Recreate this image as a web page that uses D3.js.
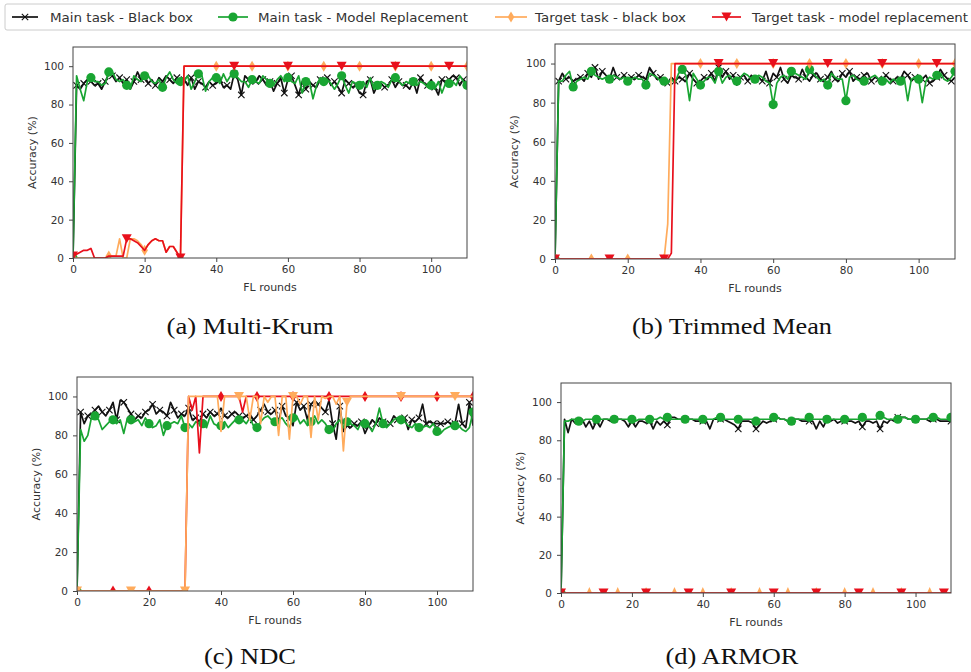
<!DOCTYPE html>
<html>
<head>
<meta charset="utf-8">
<title>fl-accuracy</title>
<style>
  body { margin: 0; background: #fff; }
  svg { display: block; }
  .tick text { font-family: "DejaVu Sans", sans-serif; font-size: 10.5px; fill: #333; }
  .axislabel { font-family: "DejaVu Sans", sans-serif; font-size: 11px; fill: #333; }
  .caption { font-family: "Liberation Serif", serif; font-size: 24px; fill: #111; }
  .legend text { font-family: "DejaVu Sans", sans-serif; font-size: 13px; fill: #333; }
</style>
</head>
<body>
<svg id="chart" width="971" height="672"></svg>

<script src="https://cdn.jsdelivr.net/npm/d3@7"></script>
<script>

// rounds 0..110, values (accuracy %)
var roundTicks = [0, 20, 40, 60, 80, 100]
var accTicks = [0, 20, 40, 60, 80, 100]

// (a) Multi-Krum
var krumMainBB = [
  0, 90, 88, 91, 93, 92, 90, 91, 88, 92,
  96, 95, 92, 94, 91, 93, 88, 92, 97, 93,
  95, 91, 93, 90, 94, 92, 95, 93, 91, 94,
  92, 93, 90, 94, 88, 92, 91, 89, 92, 90,
  91, 93, 89, 90, 88, 96, 93, 85, 95, 93,
  94, 92, 95, 93, 90, 92, 87, 91, 94, 86,
  93, 95, 90, 85, 92, 88, 92, 90, 89, 93,
  91, 94, 90, 92, 89, 86, 93, 91, 89, 90,
  86, 85, 92, 93, 86, 90, 91, 89, 90, 93,
  89, 92, 90, 90, 88, 92, 86, 94, 91, 90,
  93, 89, 85, 93, 92, 93, 95, 94, 90, 93,
  91]
var krumMainMR = [
  0, 95, 88, 82, 92, 94, 92, 92, 90, 91,
  97, 97, 93, 92, 93, 90, 88, 95, 93, 92,
  95, 95, 92, 91, 93, 89, 94, 97, 93, 91,
  92, 92, 95, 88, 92, 96, 95, 87, 92, 94,
  94, 91, 96, 92, 95, 96, 94, 92, 92, 89,
  93, 92, 91, 95, 93, 91, 90, 93, 95, 92,
  94, 92, 91, 95, 86, 92, 92, 83, 90, 94,
  92, 93, 91, 88, 91, 95, 90, 86, 92, 91,
  90, 92, 89, 94, 88, 90, 92, 91, 89, 93,
  94, 92, 90, 92, 91, 92, 90, 92, 91, 89,
  90, 88, 92, 86, 91, 91, 92, 90, 95, 92,
  90]
var krumTargetBB = [
  0, 0, 0, 0, 0, 0, 0, 0, 0, 0,
  1, 1, 1, 10, 0, 0, 10, 10, 9, 7,
  4, 7, 9, 10, 9, 9, 3, 6, 6, 3,
  0, 100, 100, 100, 100, 100, 100, 100, 100, 100,
  100, 100, 100, 100, 100, 100, 100, 100, 100, 100,
  100, 100, 100, 100, 100, 100, 100, 100, 100, 100,
  100, 100, 100, 100, 100, 100, 100, 100, 100, 100,
  100, 100, 100, 100, 100, 100, 100, 100, 100, 100,
  100, 100, 100, 100, 100, 100, 100, 100, 100, 100,
  100, 100, 100, 100, 100, 100, 100, 100, 100, 100,
  100, 100, 100, 100, 100, 100, 100, 100, 100, 100,
  100]
var krumTargetMR = [
  1, 2, 3, 4, 4, 5, 0, 0, 0, 0,
  1, 1, 1, 1, 1, 10, 10, 9, 8, 6,
  4, 7, 9, 10, 9, 9, 3, 6, 6, 3,
  0, 100, 100, 100, 100, 100, 100, 100, 100, 100,
  100, 100, 100, 100, 100, 100, 100, 100, 100, 100,
  100, 100, 100, 100, 100, 100, 100, 100, 100, 100,
  100, 100, 100, 100, 100, 100, 100, 100, 100, 100,
  100, 100, 100, 100, 100, 100, 100, 100, 100, 100,
  100, 100, 100, 100, 100, 100, 100, 100, 100, 100,
  100, 100, 100, 100, 100, 100, 100, 100, 100, 100,
  100, 100, 100, 100, 100, 100, 100, 100, 100, 100,
  100]

// (b) Trimmed Mean
var trimMainBB = [
  0, 91, 95, 92, 93, 91, 92, 93, 91, 95,
  93, 98, 92, 96, 94, 92, 98, 93, 92, 94,
  91, 93, 92, 94, 93, 92, 98, 95, 92, 93,
  91, 90, 93, 91, 93, 92, 91, 95, 92, 90,
  91, 93, 92, 95, 91, 98, 93, 96, 92, 94,
  89, 93, 94, 91, 94, 92, 93, 91, 96, 90,
  95, 93, 98, 92, 90, 94, 93, 92, 97, 93,
  91, 94, 95, 92, 91, 93, 96, 92, 91, 95,
  93, 96, 91, 93, 92, 94, 95, 91, 93, 92,
  91, 94, 92, 91, 93, 92, 96, 94, 91, 93,
  91, 92, 94, 90, 91, 93, 97, 94, 92, 91,
  93]
var trimMainMR = [
  0, 91, 91, 94, 96, 88, 91, 92, 93, 92,
  96, 94, 93, 92, 93, 92, 94, 93, 92, 93,
  91, 92, 93, 92, 92, 89, 95, 94, 93, 91,
  91, 90, 92, 90, 95, 97, 94, 81, 95, 92,
  89, 91, 93, 93, 90, 96, 90, 93, 94, 91,
  91, 93, 95, 94, 92, 92, 94, 93, 91, 90,
  79, 90, 93, 94, 92, 96, 95, 94, 93, 92,
  97, 95, 93, 91, 92, 89, 95, 93, 92, 92,
  81, 93, 94, 92, 91, 91, 92, 93, 94, 92,
  91, 92, 90, 92, 91, 91, 93, 81, 92, 93,
  92, 80, 91, 93, 92, 94, 95, 92, 91, 93,
  96]
var trimTargetBB = [
  0, 0, 0, 0, 0, 0, 0, 0, 0, 0,
  0, 0, 0, 0, 0, 0, 0, 0, 0, 0,
  0, 0, 0, 0, 0, 0, 0, 0, 0, 0,
  0, 18, 100, 100, 100, 100, 100, 100, 100, 100,
  100, 100, 100, 100, 100, 100, 100, 100, 100, 100,
  100, 100, 100, 100, 100, 100, 100, 100, 100, 100,
  100, 100, 100, 100, 100, 100, 100, 100, 100, 100,
  100, 100, 100, 100, 100, 100, 100, 100, 100, 100,
  100, 100, 100, 100, 100, 100, 100, 100, 100, 100,
  100, 100, 100, 100, 100, 100, 100, 100, 100, 100,
  100, 100, 100, 100, 100, 100, 100, 100, 100, 100,
  100]
var trimTargetMR = [
  0, 0, 0, 0, 0, 0, 0, 0, 0, 0,
  0, 0, 0, 0, 0, 0, 0, 0, 0, 0,
  0, 0, 0, 0, 0, 0, 0, 0, 0, 0,
  0, 0, 3, 100, 100, 100, 100, 100, 100, 100,
  100, 100, 100, 100, 100, 100, 100, 100, 100, 100,
  100, 100, 100, 100, 100, 100, 100, 100, 100, 100,
  100, 100, 100, 100, 100, 100, 100, 100, 100, 100,
  100, 100, 100, 100, 100, 100, 100, 100, 100, 100,
  100, 100, 100, 100, 100, 100, 100, 100, 100, 100,
  100, 100, 100, 100, 100, 100, 100, 100, 100, 100,
  100, 100, 100, 100, 100, 100, 100, 100, 100, 100,
  100]

// (c) NDC
var ndcMainBB = [
  0, 92, 86, 90, 91, 93, 95, 92, 90, 93,
  97, 88, 98, 97, 94, 91, 88, 90, 89, 92,
  93, 96, 91, 93, 92, 90, 97, 93, 89, 91,
  90, 94, 88, 89, 87, 91, 89, 92, 90, 91,
  94, 90, 89, 91, 92, 90, 89, 90, 91, 88,
  90, 93, 96, 92, 91, 93, 87, 95, 90, 89,
  85, 97, 93, 95, 88, 96, 98, 96, 94, 92,
  98, 86, 78, 95, 82, 85, 84, 86, 85, 87,
  81, 85, 88, 86, 89, 87, 85, 86, 90, 88,
  87, 89, 83, 88, 87, 89, 96, 86, 87, 86,
  86, 86, 86, 87, 86, 86, 96, 86, 84, 97,
  85]
var ndcMainMR = [
  0, 83, 77, 80, 89, 90, 88, 83, 85, 87,
  88, 86, 88, 81, 89, 88, 87, 88, 85, 89,
  86, 84, 85, 88, 80, 85, 86, 87, 86, 90,
  84, 86, 84, 87, 86, 86, 84, 90, 86, 85,
  85, 87, 84, 86, 88, 88, 88, 86, 89, 85,
  84, 87, 89, 90, 88, 87, 88, 89, 86, 84,
  89, 90, 86, 88, 85, 87, 90, 86, 88, 86,
  83, 82, 86, 88, 84, 87, 86, 85, 83, 87,
  86, 85, 82, 86, 94, 86, 84, 86, 88, 89,
  88, 87, 85, 84, 86, 84, 84, 85, 84, 86,
  82, 81, 83, 84, 85, 85, 85, 83, 82, 84,
  92]
var ndcTargetMR = [
  0, 0, 0, 0, 0, 0, 0, 0, 0, 0,
  0, 0, 0, 0, 0, 0, 0, 0, 0, 0,
  0, 0, 0, 0, 0, 0, 0, 0, 0, 0,
  0, 100, 93, 100, 71, 100, 100, 100, 100, 100,
  100, 100, 100, 100, 100, 100, 92, 100, 100, 100,
  100, 100, 100, 100, 100, 100, 100, 100, 100, 100,
  100, 100, 100, 100, 100, 100, 100, 100, 100, 100,
  100, 100, 100, 100, 100, 100, 100, 100, 100, 100,
  100, 100, 100, 100, 100, 100, 100, 100, 100, 100,
  100, 100, 100, 100, 100, 100, 100, 100, 100, 100,
  100, 100, 100, 100, 100, 100, 100, 100, 100, 100,
  100]
var ndcTargetBB = [
  0, 0, 0, 0, 0, 0, 0, 0, 0, 0,
  0, 0, 0, 0, 0, 0, 0, 0, 0, 0,
  0, 0, 0, 0, 0, 0, 0, 0, 0, 0,
  0, 100, 100, 100, 100, 100, 100, 100, 100, 100,
  82, 100, 100, 100, 100, 100, 100, 100, 88, 100,
  100, 86, 100, 97, 100, 100, 80, 100, 100, 78,
  100, 100, 96, 100, 100, 79, 100, 88, 100, 99,
  100, 100, 96, 100, 72, 97, 100, 100, 100, 100,
  100, 100, 100, 100, 100, 100, 100, 100, 100, 100,
  100, 100, 100, 100, 100, 100, 100, 100, 100, 100,
  100, 100, 100, 100, 100, 100, 100, 100, 100, 100,
  100]

// (d) ARMOR
var armorMainBB = [
  0, 91, 84, 91, 89, 90, 91, 87, 90, 86,
  90, 87, 91, 91, 90, 91, 91, 91, 90, 87,
  90, 87, 90, 90, 89, 90, 86, 90, 88, 90,
  88, 92, 92, 91, 91, 91, 91, 91, 90, 90,
  90, 90, 86, 91, 91, 91, 91, 90, 89, 88,
  86, 90, 90, 90, 89, 86, 88, 90, 89, 90,
  91, 92, 91, 91, 90, 90, 91, 91, 90, 90,
  90, 90, 86, 90, 87, 91, 90, 91, 89, 90,
  90, 90, 90, 89, 90, 87, 90, 90, 89, 90,
  86, 90, 89, 91, 90, 92, 92, 92, 91, 91,
  91, 91, 91, 91, 90, 91, 91, 90, 90, 90,
  90]
var armorMainMR = [
  0, 90, 90, 91, 91, 90, 90, 91, 91, 91,
  91, 91, 91, 91, 91, 91, 91, 91, 91, 91,
  91, 90, 91, 91, 91, 91, 91, 91, 92, 91,
  92, 91, 91, 91, 91, 91, 91, 91, 91, 91,
  91, 91, 91, 91, 92, 92, 91, 91, 91, 91,
  91, 91, 91, 91, 91, 90, 91, 91, 91, 91,
  92, 92, 91, 91, 90, 90, 91, 91, 91, 91,
  92, 91, 91, 91, 91, 91, 91, 91, 91, 91,
  91, 91, 91, 91, 91, 92, 91, 91, 91, 91,
  93, 92, 91, 91, 91, 91, 92, 92, 91, 91,
  91, 91, 91, 91, 92, 92, 92, 91, 91, 91,
  92]
var armorTargetBB = [
  0, 0, 0, 0, 0, 0, 0, 0, 0, 0,
  0, 0, 0, 0, 0, 0, 0, 0, 0, 0,
  0, 0, 0, 0, 0, 0, 0, 0, 0, 0,
  0, 0, 0, 0, 0, 0, 0, 0, 0, 0,
  0, 0, 0, 0, 0, 0, 0, 0, 0, 0,
  0, 0, 0, 0, 0, 0, 0, 0, 0, 0,
  0, 0, 0, 0, 0, 0, 0, 0, 0, 0,
  0, 0, 0, 0, 0, 0, 0, 0, 0, 0,
  0, 0, 0, 0, 0, 0, 0, 0, 0, 0,
  0, 0, 0, 0, 0, 0, 0, 0, 0, 0,
  0, 0, 0, 0, 0, 0, 0, 0, 0, 0,
  0]
var armorTargetMR = [
  0, 0, 0, 0, 0, 0, 0, 0, 0, 0,
  0, 0, 0, 0, 0, 0, 0, 0, 0, 0,
  0, 0, 0, 0, 0, 0, 0, 0, 0, 0,
  0, 0, 0, 0, 0, 0, 0, 0, 0, 0,
  0, 0, 0, 0, 0, 0, 0, 0, 0, 0,
  0, 0, 0, 0, 0, 0, 0, 0, 0, 0,
  0, 0, 0, 0, 0, 0, 0, 0, 0, 0,
  0, 0, 0, 0, 0, 0, 0, 0, 0, 0,
  0, 0, 0, 0, 0, 0, 0, 0, 0, 0,
  0, 0, 0, 0, 0, 0, 0, 0, 0, 0,
  0, 0, 0, 0, 0, 0, 0, 0, 0, 0,
  0]

var legendNames = ['Main task - Black box', 'Main task - Model Replacement',
                   'Target task - black box', 'Target task - model replacement']

var BLACK = '#111', GREEN = '#19a532', ORANGE = '#ffab5c', RED = '#e8101c'

var panels = [
  { caption: '(a) Multi-Krum', l: 73, r: 467, t: 47, b: 258, cx: 250, cy: 334, capW: 167,
    series: [
      { data: krumMainBB, color: BLACK, marker: 'x', every: 2, off: 1 },
      { data: krumMainMR, color: GREEN, marker: 'o', every: 5, off: 0 },
      { data: krumTargetBB, color: ORANGE, marker: 'd', every: 10, off: 0 },
      { data: krumTargetMR, color: RED, marker: 'v', every: 15, off: 0 } ] },
  { caption: '(b) Trimmed Mean', l: 555, r: 955, t: 44, b: 259, cx: 732, cy: 334, capW: 200,
    series: [
      { data: trimMainBB, color: BLACK, marker: 'x', every: 2, off: 1 },
      { data: trimMainMR, color: GREEN, marker: 'o', every: 5, off: 0 },
      { data: trimTargetBB, color: ORANGE, marker: 'd', every: 10, off: 0 },
      { data: trimTargetMR, color: RED, marker: 'v', every: 15, off: 0 } ] },
  { caption: '(c) NDC', l: 77, r: 473, t: 377, b: 591, cx: 250, cy: 664, capW: 92,
    series: [
      { data: ndcMainBB, color: BLACK, marker: 'x', every: 2, off: 1 },
      { data: ndcMainMR, color: GREEN, marker: 'o', every: 5, off: 0 },
      { data: ndcTargetMR, color: RED, marker: 'd', every: 10, off: 0 },
      { data: ndcTargetBB, color: ORANGE, marker: 'v', every: 15, off: 0 } ] },
  { caption: '(d) ARMOR', l: 561, r: 951, t: 383, b: 593, cx: 732, cy: 664, capW: 133,
    series: [
      { data: armorMainBB, color: BLACK, marker: 'x', every: 5, off: 0 },
      { data: armorMainMR, color: GREEN, marker: 'o', every: 5, off: 0 },
      { data: armorTargetBB, color: ORANGE, marker: '^', every: 8, off: 0 },
      { data: armorTargetMR, color: RED, marker: 'v', every: 12, off: 0 } ] }
]

var svg = d3.select('#chart')

// draw one marker centred at (x, y)
function drawMarker(g, type, x, y, color) {
  if (type === 'o') {
    g.append('circle').attr('cx', x).attr('cy', y).attr('r', 4.6).attr('fill', color)
  } else if (type === 'x') {
    var s = 3.2
    g.append('path')
      .attr('d', 'M' + (x - s) + ',' + (y - s) + 'L' + (x + s) + ',' + (y + s) +
                 'M' + (x - s) + ',' + (y + s) + 'L' + (x + s) + ',' + (y - s))
      .attr('stroke', color).attr('stroke-width', 1.1).attr('fill', 'none')
  } else if (type === 'd') {
    g.append('path')
      .attr('d', 'M' + x + ',' + (y - 5.5) + 'L' + (x + 3.3) + ',' + y + 'L' + x + ',' + (y + 5.5) +
                 'L' + (x - 3.3) + ',' + y + 'Z')
      .attr('fill', color)
  } else if (type === 'v') {
    g.append('path')
      .attr('d', 'M' + (x - 5) + ',' + (y - 4.5) + 'L' + (x + 5) + ',' + (y - 4.5) + 'L' + x + ',' + (y + 4.5) + 'Z')
      .attr('fill', color)
  } else if (type === '^') {
    g.append('path')
      .attr('d', 'M' + (x - 5) + ',' + (y + 5) + 'L' + (x + 5) + ',' + (y + 5) + 'L' + x + ',' + (y - 6) + 'Z')
      .attr('fill', color)
  }
}

panels.forEach(function(p, pi) {
  var x = d3.scaleLinear().domain([0, 110]).range([p.l, p.r])
  var y = d3.scaleLinear().domain([0, 110]).range([p.b, p.t])

  var clipId = 'clip' + pi
  svg.append('clipPath').attr('id', clipId)
    .append('rect').attr('x', p.l).attr('y', p.t).attr('width', p.r - p.l).attr('height', p.b - p.t)

  var plot = svg.append('g').attr('clip-path', 'url(#' + clipId + ')')

  var line = d3.line()
    .x(function(d, i) { return x(i) })
    .y(function(d) { return y(d) })

  p.series.forEach(function(s) {
    plot.append('path')
      .datum(s.data)
      .attr('d', line)
      .attr('fill', 'none')
      .attr('stroke', s.color)
      .attr('stroke-width', 1.7)
      .attr('stroke-linejoin', 'round')
    s.data.forEach(function(v, i) {
      if (i >= s.off && (i - s.off) % s.every === 0) drawMarker(plot, s.marker, x(i), y(v), s.color)
    })
  })

  // axes
  var xAxis = d3.axisBottom(x).tickValues(roundTicks).tickSize(4).tickSizeOuter(0).tickPadding(4)
  var yAxis = d3.axisLeft(y).tickValues(accTicks).tickSize(4).tickSizeOuter(0).tickPadding(5)
  var gx = svg.append('g').attr('transform', 'translate(0,' + p.b + ')').call(xAxis)
  var gy = svg.append('g').attr('transform', 'translate(' + p.l + ',0)').call(yAxis)
  gx.select('.domain').remove()
  gy.select('.domain').remove()
  svg.selectAll('.tick line').attr('stroke', '#444')

  // frame
  svg.append('rect')
    .attr('x', p.l).attr('y', p.t).attr('width', p.r - p.l).attr('height', p.b - p.t)
    .attr('fill', 'none').attr('stroke', '#444').attr('stroke-width', 1)

  svg.append('text').attr('class', 'axislabel')
    .attr('x', (p.l + p.r) / 2).attr('y', p.b + 33)
    .attr('text-anchor', 'middle').text('FL rounds')

  svg.append('text').attr('class', 'axislabel')
    .attr('transform', 'translate(' + (p.l - 37) + ',' + ((p.t + p.b) / 2) + ') rotate(-90)')
    .attr('text-anchor', 'middle').text('Accuracy (%)')

  svg.append('text').attr('class', 'caption')
    .attr('x', p.cx).attr('y', p.cy)
    .attr('text-anchor', 'middle')
    .attr('textLength', p.capW).attr('lengthAdjust', 'spacingAndGlyphs')
    .text(p.caption)
})

// legend across the top
var legend = svg.append('g').attr('class', 'legend')
legend.append('rect')
  .attr('x', 5).attr('y', 4).attr('width', 980).attr('height', 26).attr('rx', 2)
  .attr('fill', '#fff').attr('stroke', '#ccc')

var legendItems = [
  { color: BLACK, marker: 'x', x0: 12, x1: 38, tx: 50, tw: 143 },
  { color: GREEN, marker: 'o', x0: 218, x1: 248, tx: 258, tw: 210 },
  { color: ORANGE, marker: 'd', x0: 495, x1: 527, tx: 535, tw: 151 },
  { color: RED, marker: 'v', x0: 712, x1: 741, tx: 752, tw: 216 }
]
legendItems.forEach(function(it, i) {
  legend.append('line')
    .attr('x1', it.x0).attr('x2', it.x1).attr('y1', 17).attr('y2', 17)
    .attr('stroke', it.color).attr('stroke-width', 1.7)
  drawMarker(legend, it.marker, (it.x0 + it.x1) / 2, 17, it.color)
  legend.append('text')
    .attr('x', it.tx).attr('y', 22)
    .attr('textLength', it.tw).attr('lengthAdjust', 'spacingAndGlyphs')
    .text(legendNames[i])
})

</script>
</body>
</html>
